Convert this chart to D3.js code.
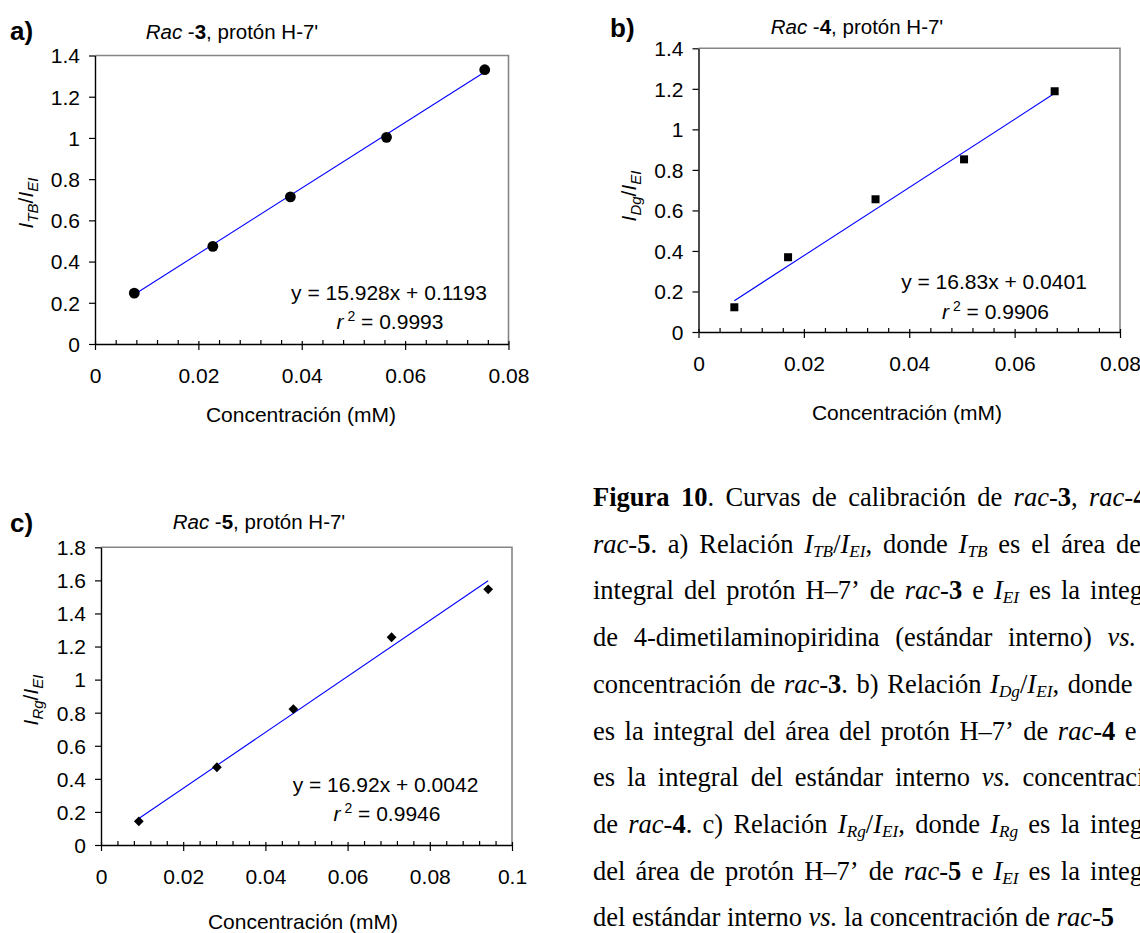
<!DOCTYPE html>
<html>
<head>
<meta charset="utf-8">
<script src="https://cdn.jsdelivr.net/npm/d3@7"></script>
<style>
html, body { margin: 0; padding: 0; overflow: hidden; background: #ffffff; }
svg { display: block; }
</style>
</head>
<body>
<svg id="fig" width="1140" height="933"></svg>
<script>
// ---------------- DATA ----------------
const concA  = [0.0076, 0.0228, 0.0378, 0.0564, 0.0754];
const ratioA = [0.247, 0.474, 0.714, 1.003, 1.331];
const concB  = [0.0068, 0.0170, 0.0336, 0.0504, 0.0676];
const ratioB = [0.122, 0.369, 0.655, 0.852, 1.188];
const concC  = [0.0092, 0.0282, 0.0468, 0.0707, 0.0942];
const ratioC = [0.143, 0.470, 0.822, 1.256, 1.546];

const slopes     = [15.928, 16.83, 16.92];
const intercepts = [0.1193, 0.0401, 0.0042];
const eqLabels   = ["y = 15.928x + 0.1193", "y = 16.83x + 0.0401", "y = 16.92x + 0.0042"];
const r2Labels   = ["0.9993", "0.9906", "0.9946"];

const xTicksAB = [0, 0.02, 0.04, 0.06, 0.08];
const xTicksC  = [0, 0.02, 0.04, 0.06, 0.08, 0.1];
const yTicksAB = [0, 0.2, 0.4, 0.6, 0.8, 1, 1.2, 1.4];
const yTicksC  = [0, 0.2, 0.4, 0.6, 0.8, 1, 1.2, 1.4, 1.6, 1.8];
const minorStep = 0.004;

const panelLetters = ["a)", "b)", "c)"];
const compoundNums = ["3", "4", "5"];
const ySubs        = ["TB", "Dg", "Rg"];
const markerTypes  = ["circle", "square", "diamond"];
const xTitle = "Concentración (mM)";

const captionLines = [
  "**Figura** **10**. Curvas de calibración de *rac*-**3**, *rac*-**4** y",
  "*rac*-**5**. a) Relación *I*_{TB}/*I*_{EI}, donde *I*_{TB} es el área de la",
  "integral del protón H–7’ de *rac*-**3** e *I*_{EI} es la integral",
  "de 4-dimetilaminopiridina (estándar interno) *vs.* la",
  "concentración de *rac*-**3**. b) Relación *I*_{Dg}/*I*_{EI}, donde *I*_{Dg}",
  "es la integral del área del protón H–7’ de *rac*-**4** e *I*_{EI}",
  "es la integral del estándar interno *vs.* concentración",
  "de *rac*-**4**. c) Relación *I*_{Rg}/*I*_{EI}, donde *I*_{Rg} es la integral",
  "del área de protón H–7’ de *rac*-**5** e *I*_{EI} es la integral",
  "del estándar interno *vs.* la concentración de *rac*-**5**"
];

// ---------------- LAYOUT ----------------
const SANS = "'Liberation Sans', Arial, Helvetica, sans-serif";
const SERIF = "'Times New Roman', 'Liberation Serif', serif";
const FS = 21;

const panels = [
  { conc: concA, ratio: ratioA, xMax: 0.08, yMax: 1.4, xTicks: xTicksAB, yTicks: yTicksAB,
    left: 95, right: 508.5, top: 55.5, bottom: 344,
    letter: [10, 40], title: [232, 38.5], eq: [389, 292.5], r2: [390, 321.7],
    xT: [301, 415], yT: [33, 203] },
  { conc: concB, ratio: ratioB, xMax: 0.08, yMax: 1.4, xTicks: xTicksAB, yTicks: yTicksAB,
    left: 698.5, right: 1120, top: 48.3, bottom: 332,
    letter: [610, 37], title: [857, 34], eq: [994, 281.7], r2: [995.5, 311.7],
    xT: [907, 413], yT: [636, 196] },
  { conc: concC, ratio: ratioC, xMax: 0.1, yMax: 1.8, xTicks: xTicksC, yTicks: yTicksC,
    left: 101, right: 512, top: 547.3, bottom: 845,
    letter: [10, 532], title: [259, 529], eq: [385.5, 785], r2: [387, 813.3],
    xT: [303, 921.7], yT: [38, 700] }
];

const svg = d3.select("#fig");
svg.append("rect").attr("width", 1140).attr("height", 933).attr("fill", "#ffffff");

const fmt = d => String(+d.toFixed(3));

panels.forEach((p, i) => {
  const g = svg.append("g");
  const x = d3.scaleLinear().domain([0, p.xMax]).range([p.left, p.right]);
  const y = d3.scaleLinear().domain([0, p.yMax]).range([p.bottom, p.top]);

  // frame (top + right) in grey
  g.append("path")
    .attr("d", `M${p.left},${p.top}H${p.right}V${p.bottom}`)
    .attr("fill", "none").attr("stroke", "#858585").attr("stroke-width", 1.6);

  // minor ticks on x axis (inside)
  const nMinor = Math.round(p.xMax / minorStep);
  const minor = d3.range(0, nMinor + 1).filter(k => k % 5 !== 0).map(k => k * minorStep);
  const gm = g.append("g").attr("transform", `translate(0,${p.bottom})`)
    .call(d3.axisBottom(x).tickValues(minor).tickSize(-4).tickFormat(""));
  gm.select(".domain").remove();
  gm.selectAll(".tick line").attr("stroke", "#000").attr("stroke-width", 1.2);

  // x axis
  const gx = g.append("g").attr("transform", `translate(0,${p.bottom})`)
    .call(d3.axisBottom(x).tickValues(p.xTicks).tickSizeInner(6).tickSizeOuter(0).tickFormat(fmt));
  gx.select(".domain").attr("stroke", "#000").attr("stroke-width", 1.4);
  gx.selectAll(".tick line").attr("y1", -3).attr("stroke", "#000").attr("stroke-width", 1.2);
  gx.selectAll(".tick text").attr("y", 31.5).attr("dy", "0.35em")
    .attr("font-family", SANS).attr("font-size", FS).attr("fill", "#000");

  // y axis
  const gy = g.append("g").attr("transform", `translate(${p.left},0)`)
    .call(d3.axisLeft(y).tickValues(p.yTicks).tickSizeInner(6).tickSizeOuter(0).tickPadding(9).tickFormat(fmt));
  gy.select(".domain").attr("stroke", "#000").attr("stroke-width", 1.4);
  gy.selectAll(".tick line").attr("stroke", "#000").attr("stroke-width", 1.2);
  gy.selectAll(".tick text").attr("dy", "0.35em")
    .attr("font-family", SANS).attr("font-size", FS).attr("fill", "#000");

  // trend line
  const ext = d3.extent(p.conc);
  g.append("path")
    .datum(ext)
    .attr("d", d3.line().x(d => x(d)).y(d => y(slopes[i] * d + intercepts[i])))
    .attr("stroke", "#0000ff").attr("stroke-width", 1.1).attr("fill", "none");

  // markers
  const pts = p.conc.map((c, k) => ({ c: c, r: p.ratio[k] }));
  const mt = markerTypes[i];
  if (mt === "circle") {
    g.selectAll("circle.pt").data(pts).join("circle").attr("class", "pt")
      .attr("cx", d => x(d.c)).attr("cy", d => y(d.r)).attr("r", 5.4).attr("fill", "#000");
  } else if (mt === "square") {
    g.selectAll("rect.pt").data(pts).join("rect").attr("class", "pt")
      .attr("x", d => x(d.c) - 4).attr("y", d => y(d.r) - 4)
      .attr("width", 8).attr("height", 8).attr("fill", "#000");
  } else {
    g.selectAll("path.pt").data(pts).join("path").attr("class", "pt")
      .attr("d", d3.symbol(d3.symbolSquare, 48))
      .attr("transform", d => `translate(${x(d.c)},${y(d.r)}) rotate(45)`)
      .attr("fill", "#000");
  }

  // equation & r2
  g.append("text").attr("x", p.eq[0]).attr("y", p.eq[1]).attr("dy", "0.35em")
    .attr("text-anchor", "middle").attr("font-family", SANS).attr("font-size", FS)
    .text(eqLabels[i]);
  const r2t = g.append("text").attr("x", p.r2[0]).attr("y", p.r2[1]).attr("dy", "0.35em")
    .attr("text-anchor", "middle").attr("font-family", SANS).attr("font-size", FS);
  r2t.append("tspan").attr("font-style", "italic").text("r");
  r2t.append("tspan").attr("font-size", 14).attr("dy", -8).text(" 2");
  r2t.append("tspan").attr("dy", 8).text(" = " + r2Labels[i]);

  // panel letter
  g.append("text").attr("x", p.letter[0]).attr("y", p.letter[1])
    .attr("font-family", SANS).attr("font-size", 26).attr("font-weight", "bold")
    .text(panelLetters[i]);

  // title
  const tt = g.append("text").attr("x", p.title[0]).attr("y", p.title[1])
    .attr("text-anchor", "middle").attr("font-family", SANS).attr("font-size", 20.5);
  tt.append("tspan").attr("font-style", "italic").text("Rac");
  tt.append("tspan").text(" -");
  tt.append("tspan").attr("font-weight", "bold").text(compoundNums[i]);
  tt.append("tspan").text(", protón H-7'");

  // x title
  g.append("text").attr("x", p.xT[0]).attr("y", p.xT[1]).attr("dy", "0.35em")
    .attr("text-anchor", "middle").attr("font-family", SANS).attr("font-size", FS)
    .text(xTitle);

  // y title (rotated)
  const yt = g.append("text")
    .attr("transform", `translate(${p.yT[0]},${p.yT[1]}) rotate(-90)`)
    .attr("text-anchor", "middle").attr("font-family", SANS).attr("font-size", FS);
  yt.append("tspan").attr("font-style", "italic").text("I");
  yt.append("tspan").attr("font-style", "italic").attr("font-size", 15).attr("dy", 5).text(ySubs[i]);
  yt.append("tspan").attr("dy", -5).text("/");
  yt.append("tspan").attr("font-style", "italic").text("I");
  yt.append("tspan").attr("font-style", "italic").attr("font-size", 15).attr("dy", 5).text("EI");
});

// ---------------- CAPTION (justified) ----------------
const CF = 26.5, CX = 593, CW = 578, CY0 = 506, CLH = 46.7;
const cap = svg.append("g");

function parseRuns(word) {
  const re = /\*\*(.+?)\*\*|\*(.+?)\*|_\{(.+?)\}|([^*_]+)/g;
  const runs = []; let m;
  while ((m = re.exec(word))) {
    if (m[1]) runs.push({ t: m[1], s: "b" });
    else if (m[2]) runs.push({ t: m[2], s: "i" });
    else if (m[3]) runs.push({ t: m[3], s: "sub" });
    else runs.push({ t: m[4], s: "" });
  }
  return runs;
}

captionLines.forEach((line, li) => {
  const yb = CY0 + li * CLH;
  const words = line.split(" ");
  const nodes = words.map(w => {
    const t = cap.append("text").attr("y", yb)
      .attr("font-family", SERIF).attr("font-size", CF).attr("fill", "#000");
    let shifted = false;
    parseRuns(w).forEach(r => {
      const ts = t.append("tspan").text(r.t);
      if (r.s === "b") ts.attr("font-weight", "bold");
      if (r.s === "i") ts.attr("font-style", "italic");
      if (r.s === "sub") {
        ts.attr("font-style", "italic").attr("font-size", CF * 0.65).attr("dy", CF * 0.15);
        shifted = true;
      } else if (shifted) {
        ts.attr("dy", -CF * 0.15); shifted = false;
      }
    });
    return t;
  });
  const widths = nodes.map(n => n.node().getComputedTextLength());
  const total = d3.sum(widths);
  const last = li === captionLines.length - 1;
  const gap = last ? CF * 0.25 : (CW - total) / (words.length - 1);
  let xp = CX;
  nodes.forEach((n, k) => { n.attr("x", xp); xp += widths[k] + gap; });
});
</script>
</body>
</html>
